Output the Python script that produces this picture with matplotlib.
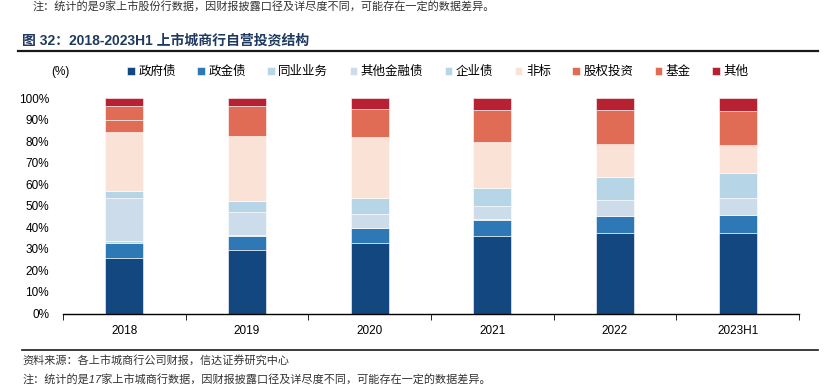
import matplotlib
matplotlib.use('Agg')
import matplotlib.pyplot as plt
import numpy as np

plt.rcParams['font.family'] = ['Liberation Sans', 'Noto Sans CJK SC', 'DejaVu Sans']

# data (share of self-investment, %)
years = ['2018', '2019', '2020', '2021', '2022', '2023H1']
series = ['政府债', '政金债', '同业业务', '其他金融债', '企业债', '非标', '股权投资', '基金', '其他']
gov_bond = [25.9, 29.4, 32.8, 36.1, 37.2, 37.2]
policy_bond = [6.9, 6.8, 6.8, 7.4, 8.0, 8.4]
interbank = [0.8, 0.3, 0.2, 0.2, 0.2, 0.2]
other_fin_bond = [20.2, 10.8, 6.6, 6.1, 7.3, 8.0]
corp_bond = [3.2, 5.1, 7.4, 8.7, 10.8, 11.4]
non_standard = [27.4, 29.8, 28.0, 20.9, 14.7, 12.8]
equity = [5.3, 0.3, 0.3, 0.3, 0.3, 0.3]
fund = [6.7, 13.9, 13.0, 14.7, 15.9, 15.8]
other = [3.6, 3.6, 4.9, 5.6, 5.6, 5.9]
colors = ['#12477f', '#2e79b5', '#b8d6e8', '#cddcea', '#b6d5e7',
          '#fbe2d6', '#e06c55', '#e06c55', '#b72131']

values = [gov_bond, policy_bond, interbank, other_fin_bond, corp_bond,
          non_standard, equity, fund, other]

fig = plt.figure(figsize=(8.25, 3.86), dpi=100)
ax = fig.add_axes([0.0764, 0.1878, 0.892, 0.558])

x = np.arange(len(years))
bottom = np.zeros(len(years))
for name, vals, c in zip(series, values, colors):
    ax.bar(x, vals, bottom=bottom, width=0.31, color=c, label=name,
           edgecolor='#ffffff', linewidth=0.4)
    bottom += np.array(vals)

ax.set_xlim(-0.5, len(years) - 0.5)
ax.set_ylim(0, 100)
ax.set_yticks(np.arange(0, 101, 10))
ax.set_yticklabels([f'{v}%' for v in range(0, 101, 10)], fontsize=8.5)
ax.tick_params(axis='y', length=0, pad=10)
ax.set_xticks(x)
ax.set_xticklabels(years, fontsize=8.5)
ax.set_xticks(np.arange(-0.5, len(years), 1), minor=True)
ax.tick_params(axis='x', which='major', length=0, pad=8)
ax.tick_params(axis='x', which='minor', length=4, direction='out')
for s in ['top', 'right', 'left']:
    ax.spines[s].set_visible(False)
ax.spines['bottom'].set_linewidth(1.0)

fig.text(0.073, 0.813, '(%)', fontsize=8.5, ha='center', va='center')
fig.legend(loc='center left', bbox_to_anchor=(0.148, 0.813), ncol=9,
           frameon=False, fontsize=9, handlelength=0.6, handleheight=0.6,
           handletextpad=0.3, columnspacing=1.7, borderaxespad=0)

# header / footer texts
fig.text(0.04, 0.984, '注：统计的是9家上市股份行数据，因财报披露口径及详尽度不同，可能存在一定的数据差异。',
         fontsize=8, color='#333333', va='center', style='italic')
fig.text(0.027, 0.896, '图 32：2018-2023H1 上市城商行自营投资结构', fontsize=10,
         fontweight='bold', color='#1f3a60', va='center')
fig.add_artist(plt.Line2D([0.022, 0.991], [0.868, 0.868], color='#1a1a1a', lw=1.6))
fig.add_artist(plt.Line2D([0.027, 0.991], [0.093, 0.093], color='#1a1a1a', lw=1.2))
fig.text(0.027, 0.067, '资料来源：各上市城商行公司财报，信达证券研究中心', fontsize=8,
         color='#333333', va='center', style='italic')
fig.text(0.027, 0.017, '注：统计的是17家上市城商行数据，因财报披露口径及详尽度不同，可能存在一定的数据差异。',
         fontsize=8, color='#333333', va='center', style='italic')

fig.savefig('out.png', dpi=100)
